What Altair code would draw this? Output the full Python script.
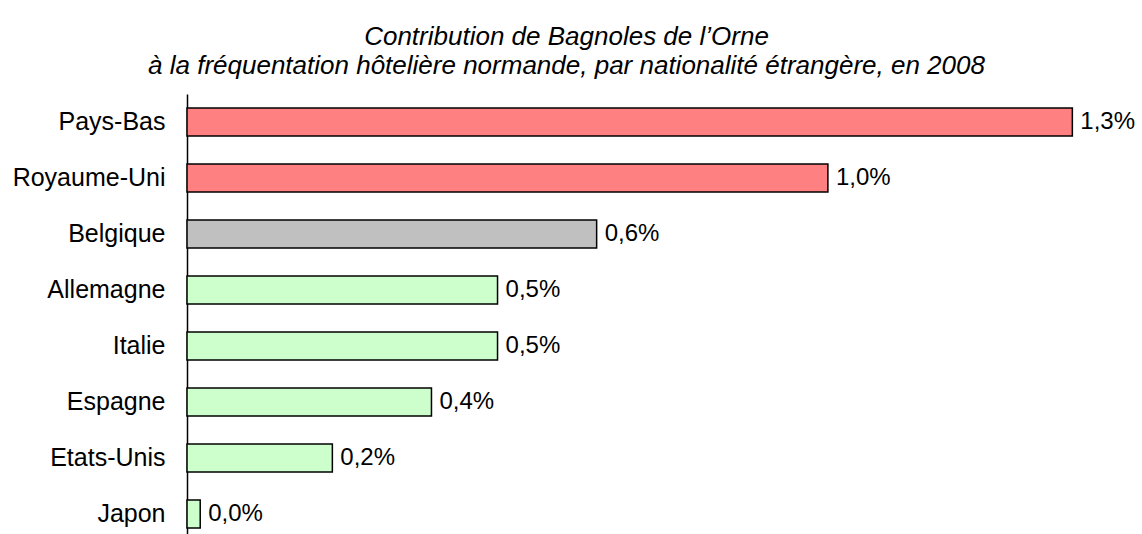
import altair as alt
import pandas as pd

pays = ["Pays-Bas", "Royaume-Uni", "Belgique", "Allemagne", "Italie", "Espagne", "Etats-Unis", "Japon"]
valeurs = [1.34, 0.97, 0.62, 0.47, 0.47, 0.37, 0.22, 0.02]
etiquettes = ["1,3%", "1,0%", "0,6%", "0,5%", "0,5%", "0,4%", "0,2%", "0,0%"]
groupes = ["haut", "haut", "moyen", "bas", "bas", "bas", "bas", "bas"]

df = pd.DataFrame({"pays": pays, "valeur": valeurs, "etiquette": etiquettes, "groupe": groupes})

FONT = "Liberation Sans"

y = alt.Y("pays:N", sort=pays,
          scale=alt.Scale(range=[0, 448], paddingInner=0.5, paddingOuter=0.25),
          axis=alt.Axis(title=None, ticks=False, labelPadding=22, labelFontSize=25,
                        labelFont=FONT, labelColor="black", domainColor="black",
                        domainWidth=1.5, labelLimit=400))
x = alt.X("valeur:Q", scale=alt.Scale(domain=[0, 1.4], nice=False),
          axis=None)

bars = alt.Chart(df).mark_bar(stroke="black", strokeWidth=1.5).encode(
    x=x, y=y,
    color=alt.Color("groupe:N",
                    scale=alt.Scale(domain=["haut", "moyen", "bas"],
                                    range=["#FF8080", "#C0C0C0", "#CCFFCC"]),
                    legend=None),
)

texts = alt.Chart(df).mark_text(align="left", baseline="middle", dx=8, fontSize=24,
                                font=FONT, color="black").encode(
    x=x, y=y, text="etiquette:N")

chart = (bars + texts).properties(
    width=925, height=440,
    background="white",
    autosize=alt.AutoSizeParams(type="none"),
    padding={"left": 187, "top": 94, "right": 30, "bottom": 0},
    title=alt.TitleParams(
        text=["Contribution de Bagnoles de l\u2019Orne",
              "\u00e0 la fr\u00e9quentation h\u00f4teli\u00e8re normande, par nationalit\u00e9 \u00e9trang\u00e8re, en 2008"],
        font=FONT, fontSize=26, fontStyle="italic", fontWeight="normal", color="black",
        anchor="middle", dx=-83, lineHeight=29, offset=15),
).configure_view(strokeWidth=0, stroke="transparent")

chart.save("out.html", embed_options={"renderer": "svg", "actions": False})
